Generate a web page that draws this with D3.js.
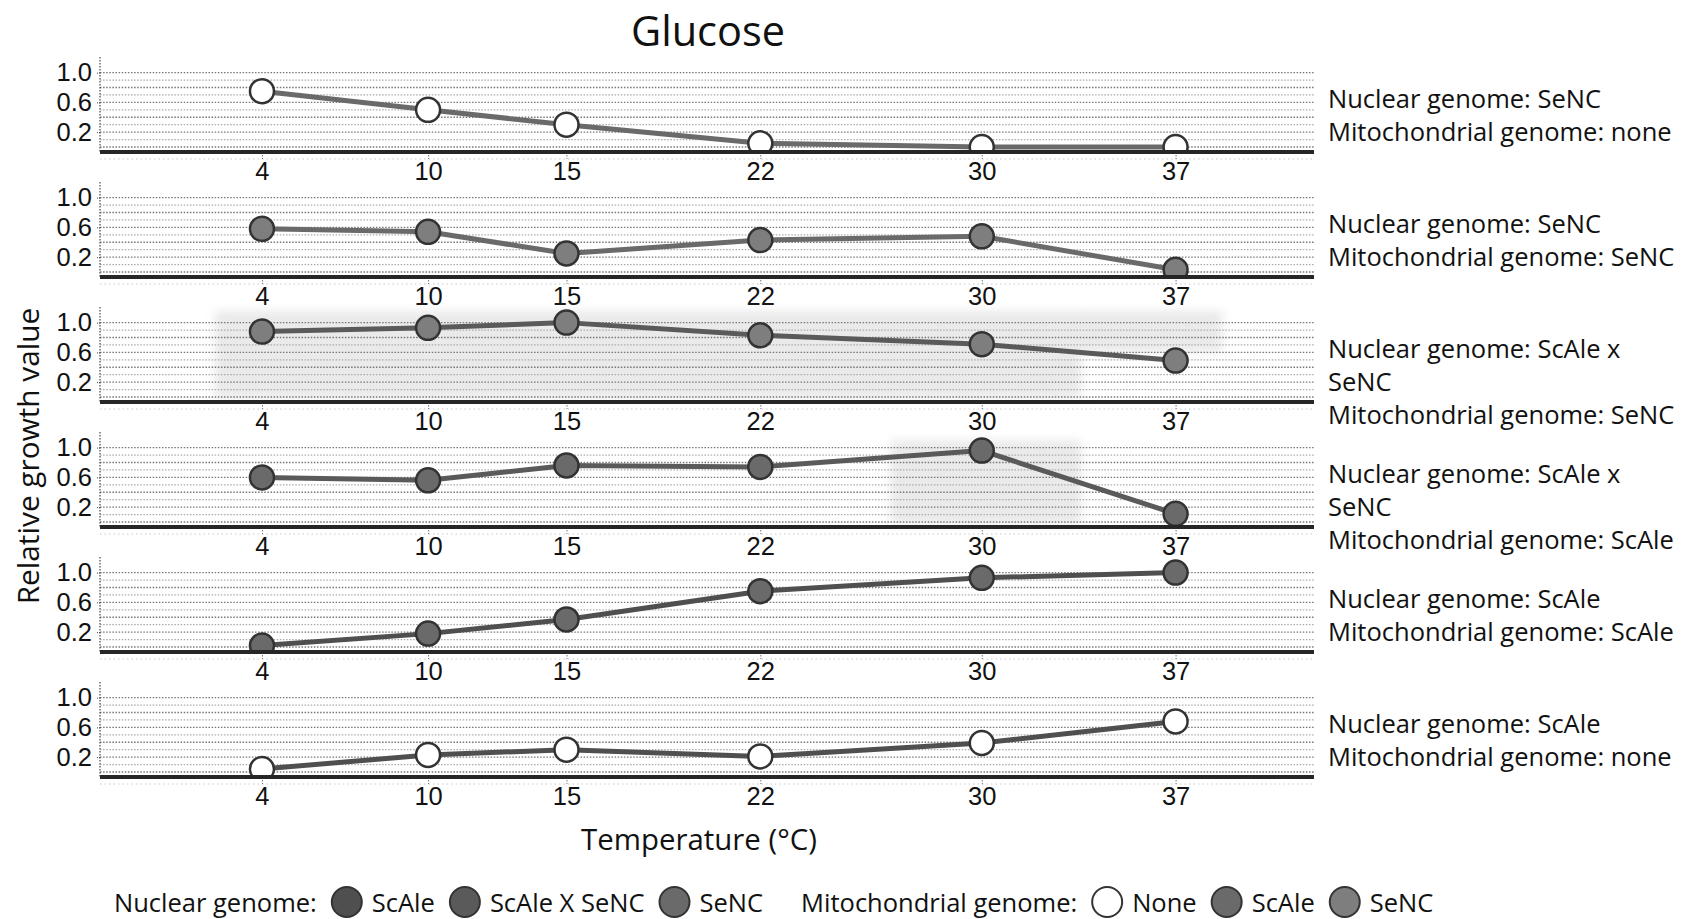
<!DOCTYPE html>
<html>
<head>
<meta charset="utf-8">
<script src="https://cdn.jsdelivr.net/npm/d3@7"></script>
<style>
  html, body { margin: 0; padding: 0; background: #fff; }
  svg { display: block; font-family: "Open Sans", Lato, sans-serif; }
</style>
</head>
<body>
<svg id="chart" width="1682" height="919"></svg>
<script>
// Growth on glucose at each temperature, one row per genome combination
const temperatures = [4, 10, 15, 22, 30, 37];
const nuclearGenome = ["SeNC", "SeNC", "ScAle x SeNC", "ScAle x SeNC", "ScAle", "ScAle"];
const mitoGenome = ["none", "SeNC", "SeNC", "ScAle", "ScAle", "none"];
const growthSeNCNone  = [0.75, 0.50, 0.30, 0.05, 0.00, 0.00];
const growthSeNCSeNC  = [0.58, 0.54, 0.25, 0.43, 0.48, 0.03];
const growthHybSeNC   = [0.88, 0.93, 1.00, 0.83, 0.71, 0.49];
const growthHybScAle  = [0.60, 0.56, 0.76, 0.74, 0.96, 0.11];
const growthScAleScAle = [0.02, 0.18, 0.37, 0.75, 0.93, 1.00];
const growthScAleNone = [0.04, 0.23, 0.30, 0.21, 0.39, 0.68];
const growthRows = [growthSeNCNone, growthSeNCSeNC, growthHybSeNC, growthHybScAle, growthScAleScAle, growthScAleNone];

// Spread bands (temperature range x growth range) per row
const bandsHybSeNC = [{t0: 2.3, t1: 33.6, v0: -0.02, v1: 1.16}, {t0: 33.6, t1: 38.7, v0: 0.6, v1: 1.16}];
const bandsHybScAle = [{t0: 26.7, t1: 33.6, v0: -0.03, v1: 1.1}];
const bandRows = [[], [], bandsHybSeNC, bandsHybScAle, [], []];

const yTickValues = [0.2, 0.6, 1.0];
const gridValues = [0, 0.1, 0.2, 0.3, 0.4, 0.5, 0.6, 0.7, 0.8, 0.9, 1.0];

const nuclearLegend = ["ScAle", "ScAle X SeNC", "SeNC"];
const mitoLegend = ["None", "ScAle", "SeNC"];

const nuclearColor = d3.scaleOrdinal()
  .domain(["ScAle", "ScAle x SeNC", "SeNC"])
  .range(["#4f4f4f", "#5a5a5a", "#6a6a6a"]);
const mitoFill = d3.scaleOrdinal()
  .domain(["none", "ScAle", "SeNC"])
  .range(["#ffffff", "#6a6a6a", "#7e7e7e"]);

const svg = d3.select("#chart");
const left = 100, right = 1314;
const firstBase = 152, panelStep = 125, panelH = 95;
const font = "'Open Sans', Lato, sans-serif";
const tickFont = "'Liberation Sans', Arial, sans-serif";
const labelSize = 25.5;
const tickSize = 25.5;
const labelX = 1328, wrapWidth = 352;

const x = d3.scaleLinear().domain([-1.85, 42]).range([left, right]);

const defs = svg.append("defs");
defs.append("filter").attr("id", "soft")
  .attr("x", "-20%").attr("y", "-20%").attr("width", "140%").attr("height", "140%")
  .append("feGaussianBlur").attr("stdDeviation", 5);

// Title
svg.append("text")
  .attr("x", 708).attr("y", 30)
  .attr("text-anchor", "middle").attr("dominant-baseline", "central")
  .attr("font-size", 41.5).attr("fill", "#111")
  .text("Glucose");

growthRows.forEach((vals, i) => {
  const base = firstBase + panelStep * i;
  const top = base - panelH;
  const y = d3.scaleLinear().domain([-0.067, 1.21]).range([base, top]);
  const g = svg.append("g");

  const clipId = "clip" + i;
  defs.append("clipPath").attr("id", clipId)
    .append("rect").attr("x", left).attr("y", top - 4)
    .attr("width", right - left).attr("height", base - top + 4);

  // shaded spread
  g.append("g").attr("filter", "url(#soft)")
    .selectAll("rect").data(bandRows[i]).join("rect")
    .attr("x", d => x(d.t0)).attr("width", d => x(d.t1) - x(d.t0))
    .attr("y", d => y(d.v1)).attr("height", d => y(d.v0) - y(d.v1))
    .attr("fill", "#d6d6d6").attr("opacity", 0.5);

  // dotted grid
  g.append("g").selectAll("line").data(gridValues).join("line")
    .attr("x1", left).attr("x2", right)
    .attr("y1", d => y(d)).attr("y2", d => y(d))
    .attr("stroke", (d, k) => k % 2 === 0 ? "#777" : "#aaa")
    .attr("stroke-width", 1.3)
    .attr("stroke-dasharray", "1.5 1.6");

  // faint dotted rule under the axis
  g.append("line")
    .attr("x1", left).attr("x2", right)
    .attr("y1", base + 7).attr("y2", base + 7)
    .attr("stroke", "#c8c8c8").attr("stroke-width", 1).attr("stroke-dasharray", "1.5 3");

  // y axis
  const yAxis = d3.axisLeft(y).tickValues(yTickValues).tickFormat(d3.format(".1f")).tickSize(4).tickPadding(4);
  const ya = g.append("g").attr("transform", `translate(${left},0)`).call(yAxis);
  ya.select(".domain").remove();
  ya.selectAll(".tick line").attr("stroke", "#444").attr("stroke-dasharray", "1 1");
  ya.selectAll(".tick text").attr("font-size", tickSize).attr("font-family", tickFont).attr("fill", "#111");
  g.append("line")
    .attr("x1", left).attr("x2", left).attr("y1", top).attr("y2", base)
    .attr("stroke", "#555").attr("stroke-width", 1.3).attr("stroke-dasharray", "1.5 1.5");

  // x axis
  const xAxis = d3.axisBottom(x).tickValues(temperatures).tickFormat(d3.format("d")).tickSize(7).tickPadding(3);
  const xa = g.append("g").attr("transform", `translate(0,${base})`).call(xAxis);
  xa.select(".domain").remove();
  xa.selectAll(".tick line").attr("stroke", "#777").attr("stroke-dasharray", "1.5 1.5");
  xa.selectAll(".tick text").attr("font-size", tickSize).attr("font-family", tickFont).attr("fill", "#111");

  // series line and points
  const pts = temperatures.map((t, k) => ({t, v: vals[k]}));
  const plot = g.append("g").attr("clip-path", `url(#${clipId})`);
  plot.append("path").datum(pts)
    .attr("d", d3.line().x(d => x(d.t)).y(d => y(d.v)))
    .attr("fill", "none")
    .attr("stroke", nuclearColor(nuclearGenome[i]))
    .attr("stroke-width", 5)
    .attr("stroke-linejoin", "round");
  plot.selectAll("circle").data(pts).join("circle")
    .attr("cx", d => x(d.t)).attr("cy", d => y(d.v)).attr("r", 12)
    .attr("fill", mitoFill(mitoGenome[i]))
    .attr("stroke", "#333").attr("stroke-width", 2.5);

  g.append("line")
    .attr("x1", left).attr("x2", right).attr("y1", base).attr("y2", base)
    .attr("stroke", "#262626").attr("stroke-width", 4);

  // row label, wrapped to the right margin
  const lines = [];
  const probe = svg.append("text").attr("font-size", labelSize).attr("font-family", font);
  [`Nuclear genome: ${nuclearGenome[i]}`, `Mitochondrial genome: ${mitoGenome[i]}`].forEach(str => {
    let cur = "";
    str.split(" ").forEach(wd => {
      const trial = cur ? cur + " " + wd : wd;
      probe.text(trial);
      if (probe.node().getComputedTextLength() > wrapWidth && cur) { lines.push(cur); cur = wd; }
      else cur = trial;
    });
    lines.push(cur);
  });
  probe.remove();
  g.append("g").selectAll("text").data(lines).join("text")
    .attr("x", labelX).attr("y", (d, k) => base - 54 + 33 * k)
    .attr("dominant-baseline", "central")
    .attr("font-size", labelSize).attr("fill", "#111")
    .text(d => d);
});

// axis titles
svg.append("text")
  .attr("transform", "translate(27,456) rotate(-90)")
  .attr("text-anchor", "middle").attr("dominant-baseline", "central")
  .attr("font-size", 29.8).attr("fill", "#111")
  .text("Relative growth value");
svg.append("text")
  .attr("x", 699).attr("y", 839)
  .attr("text-anchor", "middle").attr("dominant-baseline", "central")
  .attr("font-size", 29.4).attr("fill", "#111")
  .text("Temperature (°C)");

// legend
const legendY = 902;
const lg = svg.append("g").attr("font-size", labelSize).attr("fill", "#111");
let cx = 114;
function legendText(str) {
  const t = lg.append("text").attr("x", cx).attr("y", legendY).attr("dominant-baseline", "central").text(str);
  cx += t.node().getComputedTextLength();
}
function legendDot(fill) {
  cx += 15 + 15;
  lg.append("circle").attr("cx", cx).attr("cy", legendY).attr("r", 15)
    .attr("fill", fill).attr("stroke", "#333").attr("stroke-width", 2);
  cx += 15 + 10;
}
legendText("Nuclear genome:");
nuclearLegend.forEach(k => {
  legendDot(nuclearColor(k === "ScAle X SeNC" ? "ScAle x SeNC" : k));
  legendText(k);
});
cx += 38;
legendText("Mitochondrial genome:");
mitoLegend.forEach(k => {
  legendDot(mitoFill(k === "None" ? "none" : k));
  legendText(k);
});
</script>
</body>
</html>
